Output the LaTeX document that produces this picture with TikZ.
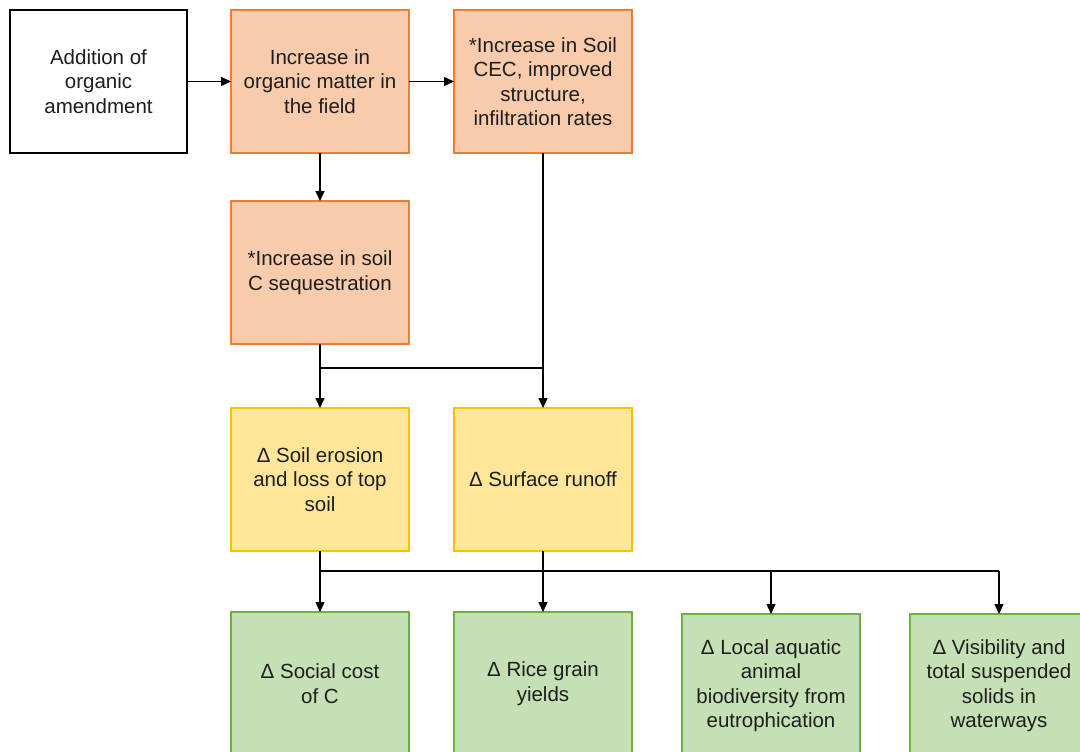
\documentclass[tikz,border=0pt]{standalone}
\usepackage{fontspec}
\setmainfont{Liberation Sans}
\usepackage{xcolor}
\usetikzlibrary{arrows.meta,positioning}

\definecolor{orfill}{HTML}{F8CBAD}
\definecolor{ordraw}{HTML}{ED7D31}
\definecolor{yefill}{HTML}{FFE699}
\definecolor{yedraw}{HTML}{FFC000}
\definecolor{grfill}{HTML}{C5E0B4}
\definecolor{grdraw}{HTML}{70AD47}
\definecolor{txt}{HTML}{1E1E1E}

\begin{document}
\begin{tikzpicture}[
  x=1pt, y=1pt,
  box/.style={draw, align=center, minimum width=178pt, minimum height=143pt, inner sep=4pt, outer sep=0pt, line width=1.3pt, text=txt, font=\fontsize{20.5}{24.5}\selectfont},
  plainbox/.style={box, draw=black, fill=white, minimum width=177pt},
  orbox/.style={box, draw=ordraw, fill=orfill},
  yebox/.style={box, draw=yedraw, fill=yefill},
  grbox/.style={box, draw=grdraw, fill=grfill},
  arrow/.style={-{Triangle[length=10pt,width=9pt]}, line width=1.4pt}
]
\useasboundingbox (0,0) rectangle (1080,-752);

\node[plainbox] (addition) at (98.5,-81.5) {Addition of\\organic\\amendment};
\node[orbox, right=44pt of addition] (organic) {Increase in\\organic matter in\\the field};
\node[orbox, right=45pt of organic] (cec) {*Increase in Soil\\CEC, improved\\structure,\\infiltration rates};
\node[orbox, below=48pt of organic] (sequest) {*Increase in soil\\C sequestration};

\node[yebox, below=64pt of sequest] (erosion) {Δ Soil erosion\\and loss of top\\soil};
\node[yebox, right=45pt of erosion] (runoff) {Δ Surface runoff};

\node[grbox, below=61pt of erosion] (social) {Δ Social cost\\of C};
\node[grbox, right=45pt of social] (rice) {Δ Rice grain\\yields};
\node[grbox, right=50pt of rice, yshift=-2pt] (aquatic) {Δ Local aquatic\\animal\\biodiversity from\\eutrophication};
\node[grbox, right=50pt of aquatic] (visibility) {Δ Visibility and\\total suspended\\solids in\\waterways};

\draw[arrow] (addition) -- (organic);
\draw[arrow] (organic) -- (cec);
\draw[arrow] (organic) -- (sequest);

\draw[line width=1.4pt] (sequest.south) -- ++(0,-24) coordinate (split1);
\draw[line width=1.4pt] (split1) -- (split1 -| runoff);
\draw[arrow] (split1) -- (erosion);
\draw[arrow] (cec) -- (runoff);

\draw[line width=1.4pt] (erosion.south) -- ++(0,-20) coordinate (split2);
\draw[line width=1.4pt] (runoff.south) -- (runoff |- split2);
\draw[line width=1.4pt] (split2) -- (split2 -| visibility);
\draw[arrow] (split2) -- (social);
\draw[arrow] (runoff |- split2) -- (rice);
\draw[arrow] (split2 -| aquatic) -- (aquatic);
\draw[arrow] (split2 -| visibility) -- (visibility);
\end{tikzpicture}
\end{document}
